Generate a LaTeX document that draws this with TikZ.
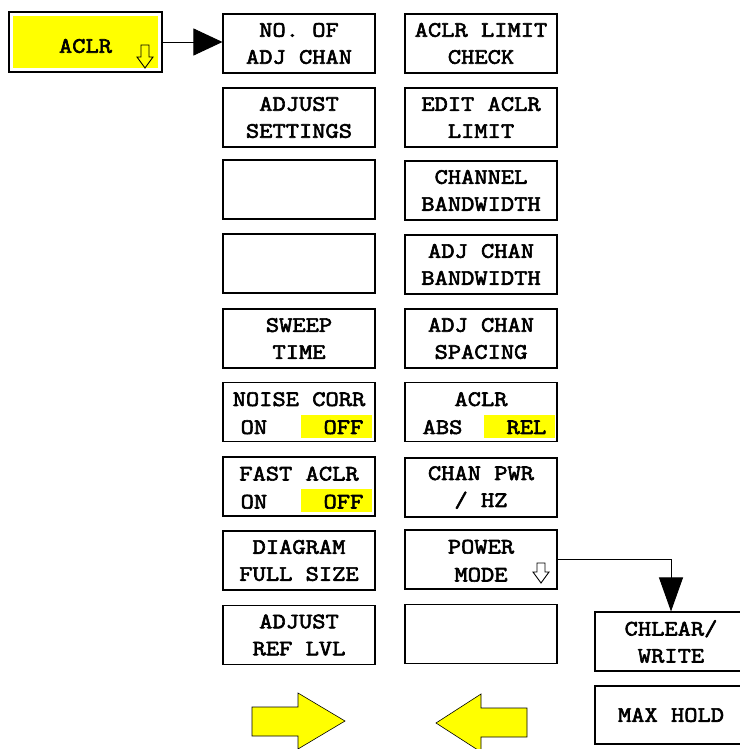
\documentclass[tikz,border=0pt]{standalone}
\usepackage{fontspec}
\setmonofont{Latin Modern Mono}[AutoFakeBold=2.8, FakeStretch=1.17]
\usepackage{tikz}
\usetikzlibrary{calc,arrows.meta}
\newcommand{\softkeyfont}{\fontsize{22}{27}\selectfont\ttfamily\bfseries}
\definecolor{keyyellow}{HTML}{FFFF00}
\tikzset{
  softkey/.style={draw, line width=1.1pt, minimum width=152pt, minimum height=59pt,
    inner sep=0pt, align=center, font=\softkeyfont},
  keytext/.style={inner sep=0pt, font=\softkeyfont},
  menulink/.style={line width=0.9pt},
  bigarrow/.style={fill=keyyellow, draw=black, line width=0.6pt},
  hollow/.style={draw=black, line width=0.9pt, line join=miter}
}

\begin{document}
\begin{tikzpicture}[x=1pt, y=-1pt]
        \useasboundingbox (0,0) rectangle (739,749);
        % main key
        \node[softkey, line width=1.5pt, minimum width=153pt, minimum height=60pt] (aclr) at (85.5,42) {};
        \fill[keyyellow] ($(aclr.north west)+(5,5)$) rectangle ($(aclr.south east)+(-5,-5)$);
        \node[keytext] (aclrtxt) at ($(aclr.center)+(0,4)$) {ACLR};
        \filldraw[hollow, fill=keyyellow] (141,45) -- (149,45) -- (149,57) -- (153,57) -- (145,68) -- (137,57) -- (141,57) -- cycle;
        % first column
        \node[softkey, yshift=-1pt] (noadj) at (299,42.5) {NO. OF\\ADJ CHAN};
        \node[softkey, yshift=-1pt] (adjset) at (299,116.5) {ADJUST\\SETTINGS};
        \node[softkey] (blanka) at (299,189.5) {};
        \node[softkey] (blankb) at (299,263.5) {};
        \node[softkey, yshift=-1pt] (sweep) at (299,337.5) {SWEEP\\TIME};
        \node[softkey] (noise) at (299,412) {};
        \node[softkey] (fast) at (299,486.5) {};
        \node[softkey, yshift=-1pt] (diag) at (299,559.5) {DIAGRAM\\FULL SIZE};
        \node[softkey, yshift=-1pt] (reflvl) at (299,634) {ADJUST\\REF LVL};
        % second column
        \node[softkey, yshift=-1pt] (limchk) at (481,42.5) {ACLR LIMIT\\CHECK};
        \node[softkey, yshift=-1pt] (editlim) at (481,116.5) {EDIT ACLR\\LIMIT};
        \node[softkey, yshift=-1pt] (chbw) at (481,189.5) {CHANNEL\\BANDWIDTH};
        \node[softkey, yshift=-1pt] (adjbw) at (481,263.5) {ADJ CHAN\\BANDWIDTH};
        \node[softkey, yshift=-1pt] (adjsp) at (481,337.5) {ADJ CHAN\\SPACING};
        \node[softkey] (aclrmode) at (481,412) {};
        \node[softkey, yshift=-1pt] (pwrhz) at (481,486.5) {CHAN PWR\\/ HZ};
        \node[softkey] (pwrmode) at (481,559.5) {};
        \node[softkey] (blankc) at (481,634) {};
        % power mode sub menu
        \node[softkey, yshift=-1pt] (clrwrite) at (671,640.5) {CHLEAR/\\WRITE};
        \node[softkey, minimum height=58pt] (maxhold) at (671,715) {MAX HOLD};
        % toggle keys
        \fill[keyyellow] ($(noise.north west)+(79,33)$) rectangle ($(noise.north east)+(-4,56)$);
        \fill[keyyellow] ($(fast.north west)+(79,33)$) rectangle ($(fast.north east)+(-4,56)$);
        \fill[keyyellow] ($(aclrmode.north west)+(80,33)$) rectangle ($(aclrmode.north east)+(-3,56)$);
        \node[keytext, anchor=base] (noisetop) at ($(noise.north)+(0,24)$) {NOISE CORR};
        \node[keytext, anchor=base west] (noiseon) at ($(noise.north west)+(18,52)$) {ON};
        \node[keytext, anchor=base east] (noiseoff) at ($(noise.north east)+(-12,52)$) {OFF};
        \node[keytext, anchor=base] (fasttop) at ($(fast.north)+(0,24)$) {FAST ACLR};
        \node[keytext, anchor=base west] (faston) at ($(fast.north west)+(18,52)$) {ON};
        \node[keytext, anchor=base east] (fastoff) at ($(fast.north east)+(-12,52)$) {OFF};
        \node[keytext, anchor=base] (modetop) at ($(aclrmode.north)+(0,24)$) {ACLR};
        \node[keytext, anchor=base west] (modeabs) at ($(aclrmode.north west)+(18,52)$) {ABS};
        \node[keytext, anchor=base east] (moderel) at ($(aclrmode.north east)+(-11,52)$) {REL};
        \node[keytext, anchor=base] (pwrtop) at ($(pwrmode.north)+(0,24)$) {POWER};
        \node[keytext, anchor=base] (pwrbot) at ($(pwrmode.north)+(0,52)$) {MODE};
        \filldraw[hollow, fill=white] (537,563) -- (545,563) -- (545,572) -- (549,572) -- (541,583) -- (533,572) -- (537,572) -- cycle;
        % links
        \draw[menulink, -{Triangle[length=29pt,width=27pt]}] (aclr.east) -- (aclr.east -| noadj.west);
        \draw[menulink, -{Triangle[length=34pt,width=24pt]}] (pwrmode.east) -| (clrwrite.north);
        % page arrows
        \filldraw[bigarrow] (252,707) -- (298,707) -- (298,693) -- (345,721) -- (298,749) -- (298,736) -- (252,736) -- cycle;
        \filldraw[bigarrow] (527,708) -- (481,708) -- (481,694) -- (436,723) -- (481,752) -- (481,737) -- (527,737) -- cycle;
    \end{tikzpicture}
\end{document}
